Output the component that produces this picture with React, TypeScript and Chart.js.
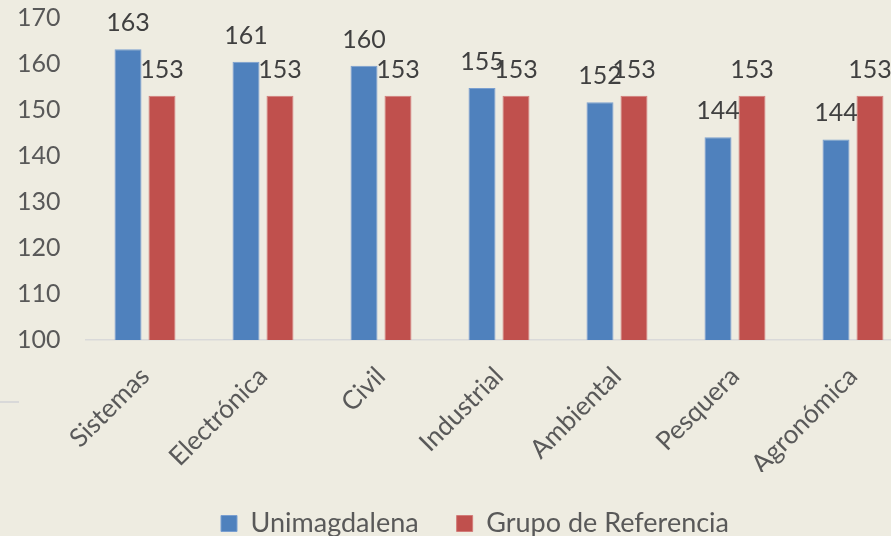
import React, { useEffect, useRef } from "react";
import { Chart, registerables } from "chart.js";

Chart.register(...registerables);

const categories = ["Sistemas", "Electrónica", "Civil", "Industrial", "Ambiental", "Pesquera", "Agronómica"];
const unimagdalena = [163.2, 160.5, 159.6, 154.8, 151.7, 144.1, 143.6];
const grupoReferencia = [153.1, 153.1, 153.1, 153.1, 153.1, 153.1, 153.1];
const seriesNames = ["Unimagdalena", "Grupo de Referencia"];
const yTicks = { min: 100, max: 170, step: 10 };

const FONT = "Lato, 'Open Sans', sans-serif";

const dataLabels = {
  id: "dataLabels",
  afterDatasetsDraw(chart: any) {
    const ctx = chart.ctx;
    ctx.save();
    ctx.font = `25px ${FONT}`;
    ctx.fillStyle = "#404040";
    ctx.textAlign = "center";
    ctx.textBaseline = "alphabetic";
    chart.data.datasets.forEach((ds: any, di: number) => {
      const meta = chart.getDatasetMeta(di);
      meta.data.forEach((el: any, i: number) => {
        ctx.fillText(String(Math.round(ds.data[i])), el.x, el.y - 18);
      });
    });
    ctx.restore();
  },
};

export default function App() {
  const ref = useRef<HTMLCanvasElement | null>(null);
  useEffect(() => {
    if (!ref.current) return;
    const chart = new Chart(ref.current, {
      type: "bar",
      data: {
        labels: categories,
        datasets: [
          {
            label: seriesNames[0],
            data: unimagdalena,
            backgroundColor: "#4F81BD",
            borderColor: "#7A9FD0",
            borderWidth: 1,
            categoryPercentage: 0.576,
            barPercentage: 0.794,
          },
          {
            label: seriesNames[1],
            data: grupoReferencia,
            backgroundColor: "#C0504D",
            borderColor: "#D27C79",
            borderWidth: 1,
            categoryPercentage: 0.576,
            barPercentage: 0.794,
          },
        ],
      },
      options: {
        responsive: false,
        animation: false,
        layout: { padding: { left: 17, right: 0, top: 18, bottom: 0 } },
        plugins: {
          title: { display: false },
          tooltip: { enabled: false },
          legend: {
            position: "bottom",
            labels: {
              boxWidth: 16,
              boxHeight: 16,
              padding: 38,
              color: "#595959",
              font: { family: FONT, size: 27 },
            },
          },
        },
        scales: {
          x: {
            grid: { display: false, drawTicks: false },
            border: { display: true, color: "#D9D9D9", width: 1.5 },
            ticks: {
              color: "#595959",
              font: { family: FONT, size: 26 },
              minRotation: 45,
              maxRotation: 45,
              autoSkip: false,
              padding: 21,
            },
            afterFit: (s: any) => {
              s.height = 132;
            },
          },
          y: {
            min: yTicks.min,
            max: yTicks.max,
            grid: { display: false, drawTicks: false },
            border: { display: false },
            ticks: {
              stepSize: yTicks.step,
              color: "#595959",
              font: { family: FONT, size: 25 },
              padding: 0,
              crossAlign: "far",
            },
            afterFit: (s: any) => {
              s.width = 69;
            },
          },
          yRight: {
            type: "linear",
            position: "right",
            display: true,
            grid: { display: false, drawTicks: false },
            border: { display: false },
            ticks: { display: false, padding: 0 },
            afterFit: (s: any) => {
              s.width = 21;
            },
          },
        },
      },
      plugins: [dataLabels],
    });
    return () => chart.destroy();
  }, []);

  return (
    <div
      style={{
        position: "fixed",
        left: 0,
        top: 0,
        width: 891,
        height: 536,
        overflow: "hidden",
        background: "#EEECE1",
      }}
    >
      <canvas ref={ref} width={933} height={547} style={{ display: "block" }} />
      <div style={{ position: "absolute", left: 0, top: 401, width: 19, height: 2, background: "#D9D9D9" }} />
    </div>
  );
}
